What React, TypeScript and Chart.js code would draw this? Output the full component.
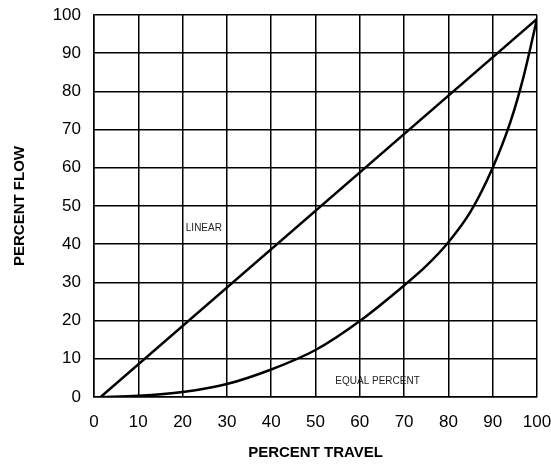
import React, { useEffect, useRef } from "react";
import { Chart, registerables } from "chart.js";
Chart.register(...registerables);

const linearX = [1.5, 100];
const linearY = [0, 99];
const equalX = [1.5, 10, 20, 30, 40, 50, 60, 70, 75, 80, 85, 90, 94, 97, 100];
const equalY = [0, 0.3, 1.3, 3.4, 7.2, 12.3, 19.9, 29.2, 34.3, 40.5, 48.5, 60, 72, 84, 99];
const annotations = [
  { text: "LINEAR", x: 24.8, y: 44.2 },
  { text: "EQUAL PERCENT", x: 64, y: 4.2 },
];
const xTitle = "PERCENT TRAVEL";
const yTitle = "PERCENT FLOW";

const FONT = "'Liberation Sans', Arial, Helvetica, sans-serif";

export default function App() {
  const ref = useRef<HTMLCanvasElement>(null);
  useEffect(() => {
    const labelPlugin = {
      id: "labels",
      afterDatasetsDraw(chart: any) {
        const { ctx, scales } = chart;
        ctx.save();
        ctx.fillStyle = "#222";
        ctx.font = `10px ${FONT}`;
        ctx.textAlign = "center";
        ctx.textBaseline = "middle";
        annotations.forEach((a) => {
          ctx.fillText(a.text, scales.x.getPixelForValue(a.x), scales.y.getPixelForValue(a.y));
        });
        ctx.restore();
      },
    };
    const chart = new Chart(ref.current!, {
      type: "line",
      data: {
        datasets: [
          {
            data: linearX.map((x, i) => ({ x, y: linearY[i] })),
            borderColor: "#000",
            borderWidth: 2.5,
            pointRadius: 0,
            fill: false,
          },
          {
            data: equalX.map((x, i) => ({ x, y: equalY[i] })),
            borderColor: "#000",
            borderWidth: 2.5,
            pointRadius: 0,
            fill: false,
            cubicInterpolationMode: "monotone",
          },
        ],
      },
      options: {
        animation: false,
        responsive: false,
        maintainAspectRatio: false,
        layout: { padding: 0 },
        plugins: { legend: { display: false }, tooltip: { enabled: false } },
        scales: {
          x: {
            type: "linear",
            min: 0,
            max: 100,
            ticks: { stepSize: 10, color: "#000", font: { family: FONT, size: 17 }, padding: 15, maxRotation: 0 },
            grid: { color: "#000", lineWidth: 1.5, drawTicks: false },
            border: { color: "#000", width: 1.5 },
            title: { display: true, text: xTitle, color: "#000", font: { family: FONT, size: 15, weight: "bold" }, padding: { top: 0, bottom: 3 } },
            afterFit(scale: any) {
              scale.height = 68;
              scale.paddingRight = 14;
              scale.paddingLeft = 0;
            },
          },
          y: {
            type: "linear",
            min: 0,
            max: 100,
            ticks: { stepSize: 10, color: "#000", font: { family: FONT, size: 17 }, padding: 13 },
            grid: { color: "#000", lineWidth: 1.5, drawTicks: false },
            border: { color: "#000", width: 1.5 },
            title: { display: true, text: yTitle, color: "#000", font: { family: FONT, size: 15, weight: "bold" }, padding: { top: 11, bottom: 0 } },
            afterFit(scale: any) {
              scale.width = 94;
              scale.paddingTop = 15;
              scale.paddingBottom = 0;
            },
          },
        },
      },
      plugins: [labelPlugin],
    } as any);
    return () => chart.destroy();
  }, []);
  return (
    <div style={{ position: "fixed", left: 0, top: 0, width: 551, height: 465, background: "#fff" }}>
      <canvas ref={ref} width={551} height={465} style={{ width: 551, height: 465 }} />
    </div>
  );
}
